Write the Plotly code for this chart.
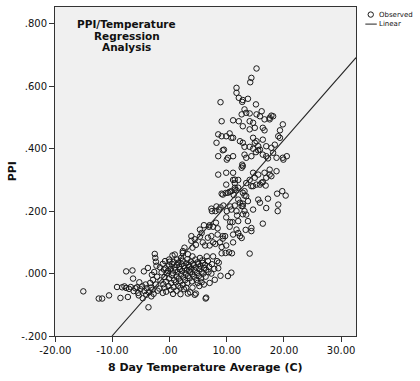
import plotly.graph_objects as go

# ---- data ----
# cold days: sparse points left of -2 C
obs_cold = [
    (-15.1, -0.057), (-12.4, -0.080), (-11.8, -0.080), (-10.6, -0.070), (-9.2, -0.043),
    (-8.6, -0.078), (-8.3, -0.044), (-7.9, -0.041), (-7.6, 0.007), (-7.6, -0.046),
    (-7.3, -0.075), (-7.1, -0.049), (-6.8, -0.043), (-6.5, 0.010), (-6.4, -0.016),
    (-6.3, -0.056), (-6.0, -0.047), (-5.7, -0.044), (-5.5, -0.062), (-5.3, -0.028),
    (-5.1, -0.050), (-4.8, -0.041), (-4.7, -0.079), (-4.5, 0.007), (-4.4, -0.056),
    (-4.2, -0.035), (-4.0, -0.047), (-3.8, 0.018), (-3.7, -0.108), (-3.6, -0.060),
    (-3.4, -0.030), (-3.3, -0.045), (-3.2, -0.073), (-3.1, -0.004), (-3.0, -0.052),
    (-2.9, -0.020), (-2.8, -0.065), (-2.6, 0.063), (-2.5, 0.050), (-2.4, 0.038),
    (-2.4, -0.035), (-2.3, 0.025), (-2.2, -0.010), (-2.1, -0.055), (-5.4, -0.070),
    (-4.1, -0.068), (-2.7, 0.005),
]
# the dense core around 0 C
obs_core = [
    (-1.2, -0.062), (-0.6, -0.058), (0.6, -0.065), (1.9, -0.066), (3.2, -0.064),
    (3.6, -0.060), (4.4, -0.068), (4.6, -0.064), (6.3, -0.080), (6.4, -0.077),
    (-1.8, -0.048), (-0.9, -0.045), (0.2, -0.052), (1.2, -0.055), (2.5, -0.050),
    (-0.1, 0.045), (0.5, 0.058), (0.9, 0.061), (2.3, 0.066), (2.3, 0.072), (2.6, 0.083),
    (-1.6, -0.022), (-1.4, 0.004), (-1.7, 0.020),
    (-1.1, -0.034), (-0.9, -0.011), (-1.0, 0.013), (-1.2, 0.031),
    (-0.6, -0.026), (-0.5, 0.001), (-0.7, 0.017),
    (-0.2, -0.040), (-0.1, -0.016), (-0.3, 0.008), (-0.1, 0.026), (0.0, 0.038),
    (0.3, -0.030), (0.4, -0.006), (0.2, 0.015), (0.4, 0.031),
    (0.7, -0.044), (0.8, -0.021), (0.6, 0.001), (0.9, 0.020), (0.7, 0.037),
    (1.1, -0.028), (1.2, -0.009), (1.0, 0.011), (1.3, 0.027),
    (1.5, -0.039), (1.6, -0.016), (1.4, 0.004), (1.7, 0.022), (1.5, 0.035),
    (1.9, -0.025), (2.0, -0.003), (1.8, 0.014), (2.1, 0.030),
    (2.3, -0.036), (2.4, -0.012), (2.2, 0.008), (2.5, 0.024), (2.3, 0.041),
    (2.7, -0.021), (2.8, 0.000), (2.6, 0.017), (2.9, 0.033),
    (3.1, -0.030), (3.2, -0.008), (3.0, 0.012), (3.3, 0.028), (3.1, 0.046),
    (3.5, -0.015), (3.6, 0.005), (3.4, 0.022), (3.7, 0.038),
    (3.9, -0.025), (4.0, -0.002), (3.8, 0.016), (4.1, 0.032),
    (4.3, -0.010), (4.4, 0.010), (4.2, 0.027), (4.5, 0.045),
    (4.7, -0.020), (4.8, 0.002), (4.6, 0.020), (4.9, 0.036),
    (5.1, -0.008), (5.2, 0.014), (5.0, 0.030),
    (5.5, -0.015), (5.6, 0.006), (5.4, 0.025), (5.7, 0.042),
    (5.9, 0.000), (6.0, 0.018), (5.8, 0.034),
    (6.3, -0.010), (6.4, 0.012), (6.2, 0.028),
    (6.8, 0.005), (6.9, 0.022), (6.7, 0.040),
    (7.3, 0.000), (7.4, 0.030), (7.8, 0.015),
    (7.9, -0.020), (8.3, 0.040), (7.0, -0.030), (6.0, -0.035), (5.2, -0.040),
    (4.0, -0.045), (2.9, -0.045), (7.6, 0.055), (6.5, 0.055), (5.3, 0.050),
    (4.0, 0.055), (3.2, 0.062), (8.6, 0.035), (1.3, 0.045), (-0.8, 0.040),
    (3.4, 0.010), (1.9, -0.045), (4.9, -0.030), (2.0, 0.050), (5.6, -0.028),
]
# the rising arm, PPI up to about .30
obs_rise = [
    (3.8, 0.120), (3.8, 0.105), (4.4, 0.110), (4.0, 0.083), (4.6, 0.092), (5.3, 0.141),
    (5.6, 0.130), (5.3, 0.118), (5.8, 0.100), (6.2, 0.090), (6.0, 0.155), (6.7, 0.115),
    (6.9, 0.150), (7.0, 0.155), (7.0, 0.090), (7.3, 0.120), (7.6, 0.150), (7.6, 0.100),
    (8.0, 0.095), (8.1, 0.163), (8.4, 0.145), (8.4, 0.125), (8.8, 0.100), (9.1, 0.085),
    (9.3, 0.112), (9.3, 0.120), (9.7, 0.120), (9.1, 0.065), (9.8, 0.066), (10.4, 0.068),
    (9.9, 0.090), (11.1, 0.100), (8.9, -0.007), (10.2, -0.008), (8.5, 0.017), (10.8, 0.003),
    (10.9, 0.065), (14.0, 0.064),
    (7.3, 0.208), (8.0, 0.200), (8.6, 0.205), (8.9, 0.212), (9.4, 0.218), (10.0, 0.200),
    (10.6, 0.215), (10.8, 0.205), (7.4, 0.200), (8.2, 0.215),
    (9.3, 0.253), (9.8, 0.258), (10.2, 0.259), (10.5, 0.262), (10.8, 0.264), (11.2, 0.252),
    (11.4, 0.269), (9.1, 0.256), (9.9, 0.285),
    (10.6, 0.165), (11.0, 0.165), (9.9, 0.180), (10.5, 0.150), (11.1, 0.125), (11.7, 0.141),
    (11.8, 0.186), (11.4, 0.218), (11.7, 0.200), (12.0, 0.168), (12.0, 0.130), (12.3, 0.120),
    (12.6, 0.114), (12.0, 0.237), (12.3, 0.227), (12.8, 0.217), (13.1, 0.250), (12.6, 0.216),
    (12.8, 0.224), (13.4, 0.189), (13.7, 0.168), (13.1, 0.200), (13.7, 0.232), (13.4, 0.248),
    (12.8, 0.259), (12.8, 0.190), (13.3, 0.140),
    (14.3, 0.146), (14.3, 0.136), (14.6, 0.205), (15.5, 0.237), (15.8, 0.227), (16.9, 0.210),
    (17.2, 0.240), (16.3, 0.160), (19.0, 0.221), (18.9, 0.200), (18.8, 0.256), (19.7, 0.264),
    (20.3, 0.250),
    (11.1, 0.300), (12.0, 0.300), (13.4, 0.290), (14.0, 0.300), (11.4, 0.275), (11.7, 0.267),
    (13.1, 0.264), (14.3, 0.280), (15.8, 0.285), (16.3, 0.293), (16.8, 0.282), (11.1, 0.323),
    (11.4, 0.290), (12.8, 0.344),
]
# warm days, PPI above .30
obs_high = [
    (15.2, 0.657), (14.3, 0.627), (14.1, 0.613), (11.7, 0.595), (11.7, 0.579), (12.1, 0.563),
    (12.8, 0.556), (13.7, 0.560), (12.7, 0.550), (8.9, 0.549), (15.1, 0.542), (13.1, 0.526),
    (13.4, 0.515), (14.0, 0.513), (15.2, 0.510), (16.1, 0.520), (15.8, 0.504), (12.6, 0.510),
    (12.1, 0.488), (11.1, 0.491), (9.1, 0.488), (14.0, 0.488), (14.6, 0.483), (16.6, 0.494),
    (17.5, 0.499), (17.8, 0.506), (12.8, 0.472), (14.0, 0.462), (14.9, 0.467), (16.3, 0.467),
    (16.6, 0.459), (19.8, 0.478), (19.3, 0.459), (19.0, 0.440), (8.5, 0.446), (9.1, 0.440),
    (9.9, 0.440), (10.5, 0.449), (10.8, 0.435), (11.1, 0.435), (8.2, 0.419), (9.5, 0.397),
    (8.5, 0.376), (9.3, 0.395), (12.3, 0.424), (12.8, 0.419), (13.1, 0.406), (14.0, 0.406),
    (14.6, 0.435), (14.9, 0.419), (15.2, 0.424), (15.5, 0.408), (15.8, 0.397), (16.3, 0.429),
    (14.6, 0.400), (15.1, 0.389), (15.5, 0.395), (16.9, 0.408), (17.8, 0.403), (18.4, 0.413),
    (19.3, 0.435), (10.2, 0.371), (11.1, 0.376), (10.0, 0.365), (13.1, 0.381), (13.4, 0.371),
    (14.3, 0.376), (16.3, 0.381), (16.9, 0.376), (17.2, 0.369), (18.1, 0.387), (18.7, 0.371),
    (19.8, 0.371), (20.5, 0.376), (12.7, 0.349), (12.6, 0.339), (8.5, 0.317), (9.9, 0.323),
    (14.6, 0.323), (14.9, 0.307), (15.5, 0.317), (16.6, 0.323), (16.9, 0.307), (17.5, 0.317),
    (17.8, 0.312), (18.7, 0.328), (17.5, 0.333), (11.4, 0.301), (12.0, 0.275), (14.6, 0.280),
    (15.2, 0.285), (16.1, 0.291), (18.1, 0.504), (17.5, 0.494), (19.9, 0.365),
]

# linear fit
fit_intercept = 0.0106
fit_slope = 0.0209

x_ticks = [-20, -10, 0, 10, 20, 30]
x_ticktext = ["-20.00", "-10.00", ".00", "10.00", "20.00", "30.00"]
y_ticks = [0.8, 0.6, 0.4, 0.2, 0.0, -0.2]
y_ticktext = [".800", ".600", ".400", ".200", ".000", "-.200"]

x_range = [-20.05, 32.6]
y_range = [-0.2, 0.854]

# ---- figure ----
all_obs = obs_cold + obs_core + obs_rise + obs_high
temp = [p[0] for p in all_obs]
ppi = [p[1] for p in all_obs]

x_start = (y_range[0] - fit_intercept) / fit_slope
line_x = [x_start, x_range[1]]
line_y = [fit_intercept + fit_slope * v for v in line_x]

fig = go.Figure()
fig.add_trace(go.Scatter(
    x=temp, y=ppi, mode="markers", name="Observed",
    marker=dict(symbol="circle-open", size=5.5, color="#1a1a1a", line=dict(width=1, color="#1a1a1a")),
))
fig.add_trace(go.Scatter(
    x=line_x, y=line_y, mode="lines", name="Linear",
    line=dict(color="#222222", width=1.1),
))

FONT = "DejaVu Sans"
axis_common = dict(
    showgrid=False, zeroline=False, showline=True, linecolor="#333333", linewidth=1,
    mirror=True, ticks="outside", ticklen=5, tickcolor="#333333", tickwidth=1,
    tickfont=dict(family=FONT, size=10, color="#111111"),
)
fig.update_xaxes(range=x_range, tickvals=x_ticks, ticktext=x_ticktext, **axis_common)
fig.update_yaxes(range=y_range, tickvals=y_ticks, ticktext=y_ticktext, **axis_common)

annotations = [
    dict(text="<b>PPI/Temperature</b>", x=0.239, y=0.947),
    dict(text="<b>Regression</b>", x=0.239, y=0.913),
    dict(text="<b>Analysis</b>", x=0.239, y=0.879),
]
for a in annotations:
    a.update(xref="paper", yref="paper", showarrow=False, xanchor="center", yanchor="middle",
             font=dict(family=FONT, size=10.5, color="#111111"))

annotations += [
    dict(text="<b>8 Day Temperature Average (C)</b>", x=0.5, y=-0.097, xref="paper", yref="paper",
         showarrow=False, xanchor="center", yanchor="middle",
         font=dict(family=FONT, size=11, color="#111111")),
    dict(text="<b>PPI</b>", x=-0.14, y=0.5, xref="paper", yref="paper", textangle=-90,
         showarrow=False, xanchor="center", yanchor="middle",
         font=dict(family=FONT, size=11, color="#111111")),
    dict(text="Observed", x=1.069, y=0.977, xref="paper", yref="paper", showarrow=False,
         xanchor="left", yanchor="middle", font=dict(family=FONT, size=7, color="#111111")),
    dict(text="Linear", x=1.069, y=0.948, xref="paper", yref="paper", showarrow=False,
         xanchor="left", yanchor="middle", font=dict(family=FONT, size=7, color="#111111")),
]

shapes = [
    dict(type="circle", xref="paper", yref="paper", xsizemode="pixel", ysizemode="pixel",
         xanchor=1.049, yanchor=0.977, x0=-2.7, x1=2.7, y0=-2.7, y1=2.7,
         line=dict(color="#1a1a1a", width=1)),
    dict(type="line", xref="paper", yref="paper", x0=1.031, x1=1.069, y0=0.948, y1=0.948,
         line=dict(color="#222222", width=1)),
]

fig.update_layout(
    width=420, height=381,
    margin=dict(l=55, r=64, t=7, b=45),
    paper_bgcolor="white", plot_bgcolor="#f0f0f0",
    showlegend=False,
    font=dict(family=FONT, size=10, color="#111111"),
    annotations=annotations, shapes=shapes,
)

fig.write_html("out.html")
